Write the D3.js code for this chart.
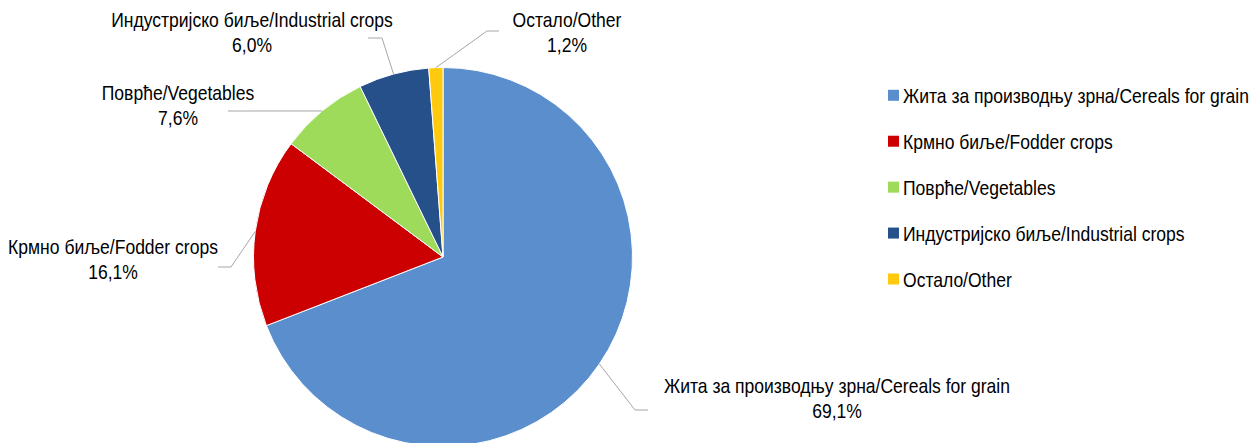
<!DOCTYPE html>
<html lang="sr">
  <head>
    <meta charset="UTF-8" />
    <title>Структура засејаних површина</title>
    <script src="https://d3js.org/d3.v7.min.js"></script>
    <style>
      body {
        margin: 0;
        background: #fff;
      }
      svg text {
        font-family: "Liberation Sans", Arial, sans-serif;
        font-size: 21px;
        fill: #000;
      }
      .slices path {
        stroke: #fff;
        stroke-width: 1px;
      }
      .leaders polyline {
        fill: none;
        stroke: #a6a6a6;
        stroke-width: 1px;
      }
    </style>
  </head>
  <body>
    <div id="chart"></div>

    <script>
      // data
      const categories = [
        "Жита за производњу зрна/Cereals for grain",
        "Крмно биље/Fodder crops",
        "Поврће/Vegetables",
        "Индустријско биље/Industrial crops",
        "Остало/Other",
      ];
      const shares = [69.1, 16.1, 7.6, 6.0, 1.2];
      const shareLabels = ["69,1%", "16,1%", "7,6%", "6,0%", "1,2%"];
      const colors = ["#5b8ecd", "#cc0000", "#9edb5a", "#25508a", "#ffc90e"];

      // label placement: text centre, first baseline, leader elbow and end
      const labelLayout = [
        { x: 837, y: 393, elbow: [635, 410], end: [648, 410] },
        { x: 113, y: 254, elbow: [231, 267], end: [218, 267] },
        { x: 178, y: 100, elbow: [228, 111], end: [228, 111] },
        { x: 252, y: 27, elbow: [382, 38], end: [368, 38] },
        { x: 567, y: 27, elbow: [487, 31], end: [499, 31] },
      ];

      const width = 1257;
      const height = 443;
      const cx = 443;
      const cy = 257;
      const radius = 189.5;
      const narrow = 0.835; // Arial Narrow look from Liberation Sans

      const svg = d3
        .select("#chart")
        .append("svg")
        .attr("width", width)
        .attr("height", height);

      const pie = d3.pie().sort(null).value((d) => d);
      const arcs = pie(shares);

      const arc = d3.arc().innerRadius(0).outerRadius(radius);
      const edgeArc = d3.arc().innerRadius(radius).outerRadius(radius);

      const g = svg.append("g").attr("transform", `translate(${cx},${cy})`);

      g.append("g")
        .attr("class", "slices")
        .selectAll("path")
        .data(arcs)
        .join("path")
        .attr("d", arc)
        .attr("fill", (d, i) => colors[i]);

      // leader lines
      svg
        .append("g")
        .attr("class", "leaders")
        .selectAll("polyline")
        .data(arcs)
        .join("polyline")
        .attr("points", (d, i) => {
          const [px, py] = edgeArc.centroid(d);
          const l = labelLayout[i];
          return [[px + cx, py + cy], l.elbow, l.end].join(" ");
        });

      // data labels
      const labels = svg
        .append("g")
        .attr("text-anchor", "middle")
        .selectAll("text")
        .data(arcs)
        .join("text")
        .attr(
          "transform",
          (d, i) =>
            `translate(${labelLayout[i].x},${labelLayout[i].y}) scale(${narrow},1)`
        );
      labels
        .append("tspan")
        .attr("x", 0)
        .text((d, i) => categories[i]);
      labels
        .append("tspan")
        .attr("x", 0)
        .attr("dy", 25)
        .text((d, i) => shareLabels[i]);

      // legend
      const legendY = d3
        .scalePoint()
        .domain(categories)
        .range([95.3, 279]);

      const legend = svg
        .append("g")
        .selectAll("g")
        .data(categories)
        .join("g")
        .attr("transform", (d) => `translate(888,${legendY(d)})`);

      legend
        .append("rect")
        .attr("x", 0)
        .attr("y", -5.5)
        .attr("width", 11)
        .attr("height", 11)
        .attr("fill", (d, i) => colors[i]);

      legend
        .append("text")
        .attr("transform", `translate(15,7.5) scale(${narrow},1)`)
        .text((d) => d);
    </script>
  </body>
</html>
